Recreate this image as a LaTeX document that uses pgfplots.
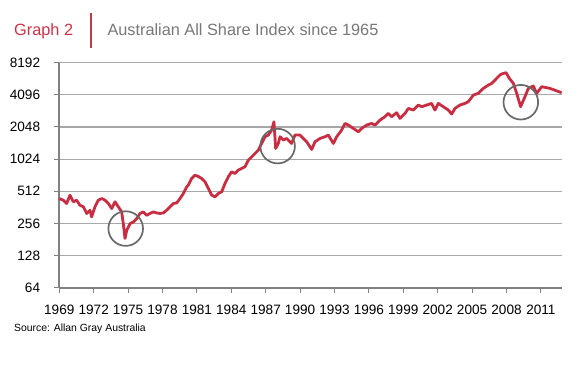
\documentclass[border=0pt]{standalone}
\usepackage{pgfplots}
\pgfplotsset{compat=1.18}
\usepackage{fontspec}
\setmainfont{Liberation Sans}
\definecolor{linered}{RGB}{200,45,65}
\definecolor{titlered}{RGB}{205,50,70}
\definecolor{divred}{RGB}{190,60,75}
\definecolor{titlegray}{RGB}{120,120,120}
\definecolor{axisgray}{RGB}{128,128,128}
\definecolor{gridgray}{RGB}{168,168,168}
\definecolor{circgray}{RGB}{105,105,105}
\begin{document}
\begin{tikzpicture}
\useasboundingbox (0bp,0bp) rectangle (581bp,369bp);
\node[anchor=base west, inner sep=0pt, text=titlered, font=\fontsize{16.3bp}{19bp}\selectfont] at (14bp,333bp) {Graph 2};
\draw[divred, line width=1.2bp] (91bp,320.7bp) -- (91bp,355.7bp);
\node[anchor=base west, inner sep=0pt, text=titlegray, font=\fontsize{16.3bp}{19bp}\selectfont] at (107.3bp,333bp) {Australian All Share Index since 1965};
\node[anchor=base west, inner sep=0pt, font=\fontsize{10.4bp}{12bp}\selectfont] at (14bp,38bp) {Source: Allan Gray Australia};
\begin{axis}[
  at={(59.3bp,81.3bp)}, anchor=south west,
  scale only axis, width=502.7bp, height=225bp,
  xmin=1969, xmax=2012.84,
  ymode=log, log basis y=2, ymin=64, ymax=8192,
  ytick={64,128,256,512,1024,2048,4096,8192},
  yticklabels={64,128,256,512,1024,2048,4096,8192},
  xtick={1969,1972,1975,1978,1981,1984,1987,1990,1993,1996,1999,2002,2005,2008,2011},
  xticklabels={1969,1972,1975,1978,1981,1984,1987,1990,1993,1996,1999,2002,2005,2008,2011},
  axis x line*=bottom, axis y line*=left,
  axis line style={axisgray, line width=1.8bp, -},
  ymajorgrids, major grid style={gridgray, line width=1.2bp},
  tick style={axisgray, line width=1bp},
  tick align=outside, major tick length=5bp,
  ticklabel style={font=\fontsize{13.6bp}{15bp}\selectfont, inner sep=0pt},
  yticklabel style={xshift=-14bp},
  xticklabel style={yshift=-12.5bp},
  clip=false,
]
\addplot[linered, line width=2.8bp, line join=round] coordinates {
(1969.00,438) (1969.35,422) (1969.64,393) (1969.93,470) (1970.22,408) (1970.51,422) (1970.80,379)
(1971.10,366) (1971.39,317) (1971.68,340) (1971.82,295) (1972.11,366) (1972.40,422) (1972.70,438)
(1972.99,422) (1973.28,393) (1973.57,353) (1973.86,408) (1974.15,366) (1974.44,328) (1974.58,255)
(1974.73,185) (1974.88,221) (1975.17,255) (1975.46,264) (1975.75,284) (1976.04,317) (1976.33,328)
(1976.62,305) (1976.91,317) (1977.20,328) (1977.49,321) (1977.78,317) (1978.07,321) (1978.36,340)
(1978.65,366) (1978.95,393) (1979.24,399) (1979.53,438) (1979.82,488) (1980.11,563) (1980.25,584)
(1980.54,674) (1980.83,724) (1981.12,705) (1981.42,674) (1981.71,628) (1982.00,543) (1982.29,471)
(1982.58,454) (1982.87,488) (1983.16,506) (1983.45,605) (1983.74,700) (1984.03,779) (1984.32,751)
(1984.61,807) (1984.90,837) (1985.19,868) (1985.49,1002) (1985.78,1077) (1986.07,1157) (1986.36,1243)
(1986.65,1436) (1986.94,1659) (1987.23,1720) (1987.52,1915) (1987.72,2292) (1987.87,1289) (1988.10,1436)
(1988.25,1659) (1988.54,1543) (1988.83,1600) (1989.26,1436) (1989.55,1720) (1989.99,1720) (1990.28,1600)
(1990.57,1489) (1991.01,1262) (1991.30,1489) (1991.74,1600) (1992.17,1659) (1992.46,1720) (1992.90,1436)
(1993.19,1659) (1993.62,1915) (1993.92,2212) (1994.21,2133) (1994.64,1985) (1995.08,1847) (1995.37,1985)
(1995.80,2133) (1996.24,2212) (1996.53,2133) (1996.97,2377) (1997.40,2555) (1997.69,2745) (1997.98,2555)
(1998.42,2785) (1998.71,2464) (1999.15,2745) (1999.44,3058) (1999.87,2948) (2000.31,3285) (2000.60,3169)
(2001.04,3285) (2001.47,3406) (2001.76,2948) (2002.05,3406) (2002.49,3169) (2002.93,2948) (2003.22,2706)
(2003.51,3058) (2003.94,3285) (2004.38,3406) (2004.67,3531) (2005.11,4078) (2005.54,4228) (2005.98,4708)
(2006.42,5058) (2006.71,5245) (2007.14,5842) (2007.43,6280) (2007.58,6418) (2007.96,6606) (2008.25,5843)
(2008.60,5245) (2008.89,4228) (2009.23,3170) (2009.61,3934) (2009.90,4705) (2010.34,4952) (2010.63,4228)
(2011.07,4881) (2011.79,4705) (2012.81,4287)
};
\addplot[only marks, mark=o, mark size=17.3bp, mark options={circgray, line width=1.7bp}] coordinates {
(1974.79,229) (1988.04,1356) (2009.25,3492)
};
\end{axis}
\end{tikzpicture}
\end{document}
